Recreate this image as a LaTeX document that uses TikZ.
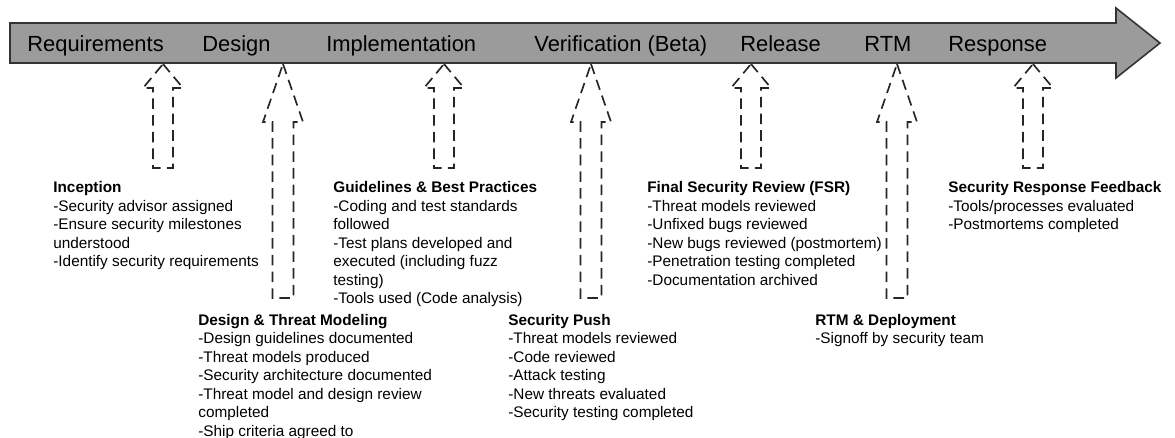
\documentclass[tikz,border=0pt]{standalone}
\usepackage{fontspec}
\setmainfont{Liberation Sans}
\begin{document}
\begin{tikzpicture}[x=0.02cm,y=-0.02cm,
  phase/.style={anchor=base west,inner sep=0pt,font=\fontsize{12.47}{14}\selectfont},
  notes/.style={anchor=north west,inner sep=0pt,align=left,font=\fontsize{8.73}{10.5}\selectfont},
  hollow/.style={draw=black!85,line width=0.95pt,dash pattern=on 6pt off 3.5pt,line join=miter}]
\useasboundingbox (0,0) rectangle (1175,437);
\draw [fill={rgb,255:red,155;green,155;blue,155},draw=black!80,line width=0.9pt] (10,23) -- (1116,23) -- (1116,8) -- (1160,43) -- (1116,78) -- (1116,63) -- (10,63) -- cycle;
\node [phase] (req) at (27,51) {Requirements};
\node [phase] (des) at (202,51) {Design};
\node [phase] (impl) at (326,51) {Implementation};
\node [phase] (verif) at (534,51) {Verification (Beta)};
\node [phase] (rel) at (740,51) {Release};
\node [phase] (rtm) at (864,51) {RTM};
\node [phase] (resp) at (948,51) {Response};
\coordinate (tipreq) at (163,64);
\coordinate (tipdes) at (283,64);
\coordinate (tipimpl) at (444,64);
\coordinate (tipverif) at (591,64);
\coordinate (tiprel) at (751,64);
\coordinate (tiprtm) at (897,64);
\coordinate (tipresp) at (1033,64);
\draw [hollow] (tipreq) -- ++(20,24) -- ++(-10,0) -- ++(0,80) -- ++(-20,0) -- ++(0,-80) -- ++(-10,0) -- cycle;
\draw [hollow] (tipimpl) -- ++(20,24) -- ++(-10,0) -- ++(0,80) -- ++(-20,0) -- ++(0,-80) -- ++(-10,0) -- cycle;
\draw [hollow] (tiprel) -- ++(20,24) -- ++(-10,0) -- ++(0,80) -- ++(-20,0) -- ++(0,-80) -- ++(-10,0) -- cycle;
\draw [hollow] (tipresp) -- ++(20,24) -- ++(-10,0) -- ++(0,80) -- ++(-20,0) -- ++(0,-80) -- ++(-10,0) -- cycle;
\draw [hollow] (tipdes) -- ++(20,58) -- ++(-9.5,0) -- ++(0,176) -- ++(-21,0) -- ++(0,-176) -- ++(-9.5,0) -- cycle;
\draw [hollow] (tipverif) -- ++(20,58) -- ++(-9.5,0) -- ++(0,176) -- ++(-21,0) -- ++(0,-176) -- ++(-9.5,0) -- cycle;
\draw [hollow] (tiprtm) -- ++(20,58) -- ++(-9.5,0) -- ++(0,176) -- ++(-21,0) -- ++(0,-176) -- ++(-9.5,0) -- cycle;
\node [notes] (inception) at (53,181.5) {\textbf{Inception}\\-Security advisor assigned\\-Ensure security milestones\\understood\\-Identify security requirements};
\node [notes] (threat) at (198,314) {\textbf{Design \& Threat Modeling}\\-Design guidelines documented\\-Threat models produced\\-Security architecture documented\\-Threat model and design review\\completed\\-Ship criteria agreed to};
\node [notes] (guide) at (333,181.5) {\textbf{Guidelines \& Best Practices}\\-Coding and test standards\\followed\\-Test plans developed and\\executed (including fuzz\\testing)\\-Tools used (Code analysis)};
\node [notes] (push) at (508,314) {\textbf{Security Push}\\-Threat models reviewed\\-Code reviewed\\-Attack testing\\-New threats evaluated\\-Security testing completed};
\node [notes] (fsr) at (647,181.5) {\textbf{Final Security Review (FSR)}\\-Threat models reviewed\\-Unfixed bugs reviewed\\-New bugs reviewed (postmortem)\\-Penetration testing completed\\-Documentation archived};
\node [notes] (deploy) at (815,314) {\textbf{RTM \& Deployment}\\-Signoff by security team};
\node [notes] (feedback) at (948,181.5) {\textbf{Security Response Feedback}\\-Tools/processes evaluated\\-Postmortems completed};
\end{tikzpicture}
\end{document}
